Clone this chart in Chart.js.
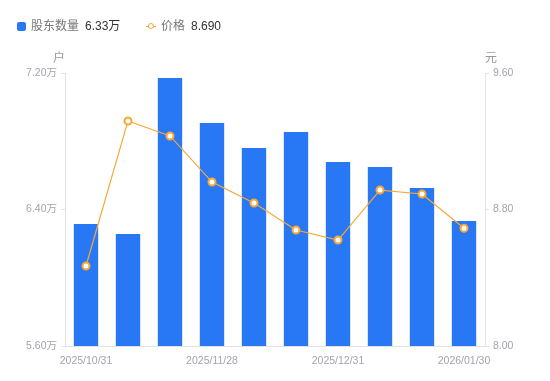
<!DOCTYPE html>
<html>
<head>
<meta charset="utf-8">
<script src="https://cdn.jsdelivr.net/npm/chart.js@4/dist/chart.umd.min.js"></script>
<style>
  html, body { margin: 0; padding: 0; background: #fff; }
  #wrap { position: relative; width: 550px; height: 381px; font-family: "Liberation Sans", "Noto Sans CJK SC", sans-serif; }
  #c { position: absolute; left: 0; top: 0; }
  .lg { position: absolute; top: 16px; font-size: 12px; line-height: 18px; white-space: nowrap; }
  .lg .name { color: #777; font-family: "Noto Sans CJK SC", sans-serif; }
  .lg .val { color: #333; margin-left: 6px; }
  .sq { display: inline-block; width: 9px; height: 9px; background: #2878f5; border-radius: 2px; margin-right: 5px; vertical-align: -1px; }
  .ln { display: inline-block; position: relative; width: 10px; height: 9px; margin-right: 5px; vertical-align: -1px; }
  .ln:before { content: ""; position: absolute; left: 0; right: 0; top: 4px; height: 1px; background: #f7a835; }
  .ln:after { content: ""; position: absolute; left: 2px; top: 1px; width: 4px; height: 4px; border: 1.5px solid #f7a835; border-radius: 50%; background: #fff; }
  .unit { position: absolute; top: 48px; font-size: 12px; color: #999; font-family: "Noto Sans CJK SC", sans-serif; }
</style>
</head>
<body>
<div id="wrap">
  <canvas id="c" width="550" height="381"></canvas>
  <div class="lg" style="left:17px"><span class="sq"></span><span class="name">股东数量</span><span class="val">6.33万</span></div>
  <div class="lg" style="left:146px"><span class="ln"></span><span class="name">价格</span><span class="val">8.690</span></div>
  <div class="unit" style="left:53px">户</div>
  <div class="unit" style="left:485px">元</div>
</div>
<script>
// data
const dates = ['2025/10/31','2025/11/10','2025/11/20','2025/11/28','2025/12/10','2025/12/19','2025/12/31','2026/01/09','2026/01/20','2026/01/30'];
const holders = [6.315, 6.256, 7.171, 6.907, 6.760, 6.854, 6.678, 6.649, 6.526, 6.332]; // 万户
const price = [8.469, 9.319, 9.231, 8.961, 8.838, 8.680, 8.621, 8.914, 8.891, 8.690]; // 元
const shownTicks = [0, 3, 6, 9];

const axisColor = '#e3e3e6';
const tickColor = '#a3a3ad';
const tickFont = { family: '"Liberation Sans", "Noto Sans CJK SC", sans-serif', size: 10.5 };

new Chart(document.getElementById('c').getContext('2d'), {
  data: {
    labels: dates,
    datasets: [
      {
        type: 'line', label: '价格', data: price, yAxisID: 'y1', order: 0,
        borderColor: '#f7a835', borderWidth: 1.2, tension: 0,
        pointRadius: 3.5, pointBorderWidth: 2, pointBackgroundColor: '#fff', pointBorderColor: '#f7a835'
      },
      {
        type: 'bar', label: '股东数量', data: holders, yAxisID: 'y', order: 1,
        backgroundColor: '#2878f5', categoryPercentage: 1, barPercentage: 0.58
      }
    ]
  },
  options: {
    responsive: false,
    animation: false,
    layout: { padding: { top: 73, left: 0, right: 0, bottom: 0 } },
    plugins: { legend: { display: false }, tooltip: { enabled: false } },
    scales: {
      x: {
        offset: true,
        grid: { display: false },
        border: { display: true, color: axisColor },
        ticks: {
          color: tickColor, font: tickFont, autoSkip: false, maxRotation: 0, padding: 1,
          callback: (v, i) => shownTicks.includes(i) ? dates[i] : ''
        },
        afterFit: s => { s.height = 35; }
      },
      y: {
        position: 'left', min: 5.6, max: 7.2,
        grid: { drawOnChartArea: false, color: axisColor, tickLength: 4 },
        border: { display: true, color: axisColor },
        ticks: { stepSize: 0.8, color: tickColor, font: tickFont, padding: 4, callback: v => v.toFixed(2) + '万' },
        afterFit: s => { s.width = 65; }
      },
      y1: {
        position: 'right', min: 8.0, max: 9.6,
        grid: { drawOnChartArea: false, color: axisColor, tickLength: 4 },
        border: { display: true, color: axisColor },
        ticks: { stepSize: 0.8, color: tickColor, font: tickFont, padding: 4, callback: v => v.toFixed(2) },
        afterFit: s => { s.width = 65; }
      }
    }
  }
});
</script>
</body>
</html>
